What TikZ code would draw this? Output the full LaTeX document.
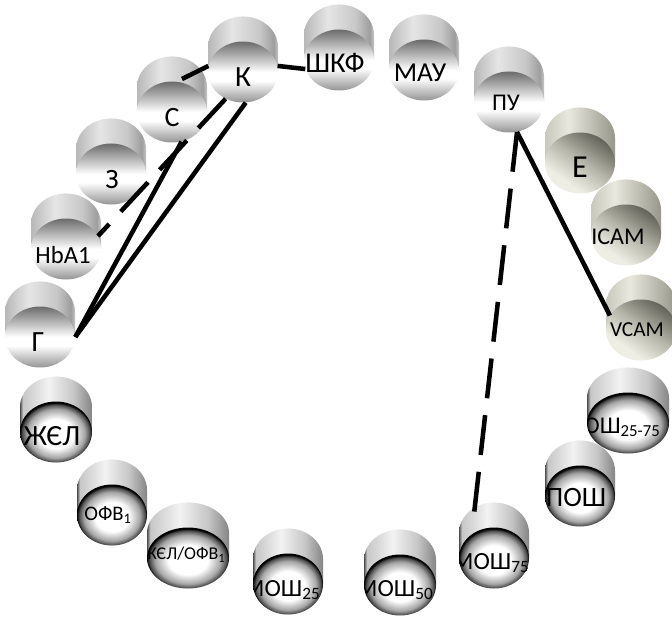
\documentclass[tikz,border=0pt]{standalone}
\usepackage{fontspec}
\setmainfont{Carlito}
\usetikzlibrary{shapes.geometric}
\definecolor{beigeL}{RGB}{238,238,228}
\definecolor{beigeM}{RGB}{182,182,170}
\definecolor{beigeD}{RGB}{98,98,88}
\definecolor{beigeA}{RGB}{200,200,188}
\definecolor{beigeB}{RGB}{232,232,222}
\definecolor{beigeC}{RGB}{150,150,138}
\pgfdeclarehorizontalshading{graybody}{100bp}{color(0bp)=(black!28); color(25bp)=(black!28); color(42bp)=(black!10); color(62bp)=(black!22); color(72bp)=(black!38); color(75bp)=(black!22); color(100bp)=(black!22)}
\pgfdeclareverticalshading{grayface}{100bp}{color(0bp)=(black!42); color(25bp)=(black!42); color(43bp)=(white); color(50bp)=(white); color(75bp)=(black!58); color(100bp)=(black!58)}
\pgfdeclarehorizontalshading{beigebody}{100bp}{color(0bp)=(beigeA); color(25bp)=(beigeA); color(42bp)=(beigeB); color(75bp)=(beigeC); color(100bp)=(beigeC)}
\pgfdeclarehorizontalshading{beigeface}{100bp}{color(0bp)=(beigeL); color(32bp)=(beigeL); color(52bp)=(beigeM); color(75bp)=(beigeD); color(100bp)=(beigeD)}
\pgfdeclarehorizontalshading{darkbody}{100bp}{color(0bp)=(black!70); color(25bp)=(black!70); color(27bp)=(black!22); color(45bp)=(black!5); color(62bp)=(black!22); color(75bp)=(black!48); color(100bp)=(black!48)}
\pgfdeclareradialshading{darkface}{\pgfpoint{0bp}{-2bp}}{color(0bp)=(white); color(12bp)=(white); color(20bp)=(black!35); color(23.5bp)=(black!70); color(25bp)=(black); color(50bp)=(black)}
\begin{document}
\begin{tikzpicture}[x=0.75pt,y=-0.75pt,
	face/.style={ellipse,inner sep=0pt,minimum width=52.5pt,minimum height=45.75pt,shade},
	lbl/.style={font=\fontsize{#1}{#1}\selectfont,inner sep=0pt},
	link/.style={line width=3.4pt},
	longdash/.style={link,dash pattern=on 30pt off 12.75pt}]
		\fill[white] (0,0) rectangle (672,617);
		\useasboundingbox (0,0) rectangle (672,617);
		%gray cylinders
		\foreach \x/\y/\n/\t/\dx/\dy/\f in {66/249/hba/HbA1/-3/6/18.5, 111/174/z/З/1/6/21, 172/112/s/С/0/6/21, 243/72/k/К/0/5/22, 339/60/shkf/ШКФ/-4/3/21.5, 424/70/mau/МАУ/-4/3/20.5, 509/102/pu/ПУ/-3/1/18, 40/337/g/Г/-2/5/22}{
		\shade[shading=graybody] (\x-35,\y) -- ++(0,-25) arc[start angle=180,end angle=0,x radius=26.25pt,y radius=22.9pt] -- (\x+35,\y) -- cycle;
		\node[face,shading=grayface,path picture={\node[lbl=\f] (\n-t) at ([shift={(\dx,\dy)}]path picture bounding box.center) {\t};}] (\n) at (\x,\y) {};
		}
		%beige cylinders
		\foreach \x/\y/\n/\t/\dx/\dy/\f in {580/163/e/Е/0/4/24, 626/235/icam/ICAM/-8/2/18, 641/330/vcam/VCAM/-4/0/16}{
		\shade[shading=beigebody] (\x-35,\y) -- ++(0,-25) arc[start angle=180,end angle=0,x radius=26.25pt,y radius=22.9pt] -- (\x+35,\y) -- cycle;
		\node[face,shading=beigeface,shading angle=55,path picture={\node[lbl=\f] (\n-t) at ([shift={(\dx,\dy)}]path picture bounding box.center) {\t};}] (\n) at (\x,\y) {};
		}
		%dark cylinders
		\foreach \x/\y/\r/\n/\t/\dx/\dy/\f in {56/432/36/zhel/ЖЄЛ/-4/4/22, 112/515/35/ofv/{ОФВ\textsubscript{1}}/-4/0/15.5, 188/558/41/zhelofv/{ЖЄЛ/ОФВ\textsubscript{1}}/-4/-3/13.5, 288/584/35/mosh25/{МОШ\textsubscript{25}}/-6/6/18.5, 400/585/36/mosh50/{МОШ\textsubscript{50}}/-5/5/18.5, 494/558/35/mosh75/{МОШ\textsubscript{75}}/-3/5/18.5, 580/496/35/posh/ПОШ/-4/2/21, 628/423/41/mosh2575/{МОШ\textsubscript{25-75}}/-16/4/18}{
		\shade[shading=darkbody] (\x-\r,\y) -- ++(0,-25) arc[start angle=180,end angle=0,x radius=\r*0.75pt,y radius=22.9pt] -- (\x+\r,\y) -- cycle;
		\node[face,minimum width=\r*1.5pt,shading=darkface,path picture={\node[lbl=\f] (\n-t) at ([shift={(\dx,\dy)}]path picture bounding box.center) {\t};}] (\n) at (\x,\y) {};
		}
		%links
		\coordinate (sk) at (182,79);
		\coordinate (m75tip) at (473,523);
		\draw[link] (k.10) -- (shkf.195);
		\draw[link] (sk) -- (k.170);
		\draw[link] (g.east) -- (s.-72);
		\draw[link] (g.east) -- (k.-85);
		\draw[longdash] (k.237) -- (hba.22);
		\draw[link] (pu.-75) -- (vcam.155);
		\draw[longdash] (pu.-75) -- (m75tip);
\end{tikzpicture}
\end{document}
